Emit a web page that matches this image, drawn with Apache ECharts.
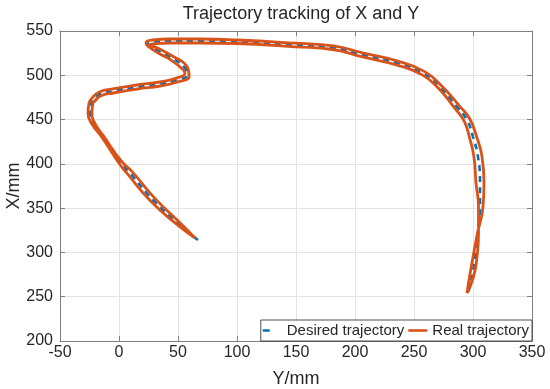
<!DOCTYPE html>
<html>
<head>
<meta charset="utf-8">
<script src="https://cdn.jsdelivr.net/npm/echarts@6/dist/echarts.min.js"></script>
<style>
html,body{margin:0;padding:0;background:#fff;}
#chart{width:550px;height:389px;}
</style>
</head>
<body>
<div id="chart"></div>
<script>
// Desired trajectory (Y/mm horizontal, X/mm vertical)
var desiredX = [66.95, 51.69, 28.81, 9.32, 0.85, -13.56, -22.03, -24.58, -23.73, -22.03, -16.10, -5.08, 15.25, 34.75, 49.15, 57.63, 55.93, 43.22, 32.20, 24.58, 28.81, 43.22, 68.64, 100.0, 149.15, 181.36, 206.78, 235.59, 257.63, 272.03, 286.44, 294.92, 300.0, 304.24, 305.93, 305.93, 304.24, 301.69, 299.15, 295.76];
var desiredY = [314.03, 330.97, 359.19, 389.68, 402.10, 430.32, 446.13, 457.42, 468.71, 472.10, 478.87, 482.26, 486.77, 490.16, 494.68, 500.32, 508.23, 520.65, 528.55, 535.32, 537.58, 538.71, 538.71, 537.92, 534.19, 531.15, 522.90, 513.87, 502.58, 486.77, 464.19, 449.52, 430.32, 407.74, 378.39, 351.29, 321.94, 294.84, 272.26, 254.19];

// Real trajectory (out and back)
var realX = [64.41, 52.71, 30.42, 10.93, 1.86, -12.88, -21.02, -22.88, -22.03, -20.85, -15.59, -4.83, 15.51, 35.00, 49.66, 59.41, 57.46, 44.15, 33.05, 26.27, 29.15, 43.22, 68.64, 100.0, 149.07, 181.10, 206.36, 235.00, 256.61, 270.76, 284.66, 292.63, 297.12, 300.85, 302.54, 304.66, 304.66, 303.39, 300.42, 294.92,
  297.03, 300.0, 303.81, 308.47, 309.32, 307.63, 302.88, 297.20, 288.22, 273.31, 258.64, 236.19, 207.20, 181.61, 149.24, 100.0, 68.64, 43.22, 28.47, 22.88, 31.36, 42.29, 54.41, 55.85, 48.64, 34.49, 15.00, -5.34, -16.61, -23.22, -25.42, -26.27, -23.05, -14.24, -0.17, 7.71, 27.20, 50.68, 64.41];
var realY = [316.29, 332.10, 361.00, 391.48, 403.23, 431.00, 447.15, 458.10, 468.71, 470.52, 476.61, 480.00, 484.52, 487.90, 492.53, 498.74, 510.15, 522.56, 530.47, 534.19, 535.32, 536.45, 536.45, 535.89, 532.16, 529.11, 520.76, 511.73, 500.77, 485.31, 462.61, 448.05, 429.19, 407.29, 378.39, 351.29, 321.94, 294.84, 272.26, 254.19,
  272.26, 294.84, 321.94, 351.29, 378.39, 408.19, 431.45, 450.98, 465.77, 488.24, 504.39, 516.02, 525.05, 533.18, 536.23, 539.84, 540.97, 540.97, 539.84, 537.02, 526.63, 518.73, 506.31, 501.90, 496.82, 492.42, 489.03, 484.52, 481.13, 473.68, 468.71, 456.74, 445.11, 429.65, 400.97, 387.87, 357.39, 329.84, 316.29];

var xTicks = [-50, 0, 50, 100, 150, 200, 250, 300, 350];
var yTicks = [200, 250, 300, 350, 400, 450, 500, 550];
var seriesNames = ['Desired trajectory', 'Real trajectory'];
var titleText = 'Trajectory tracking of X and Y';

function pairs(xs, ys) { return xs.map(function (x, i) { return [x, ys[i]]; }); }

var FONT = '"Liberation Sans", Arial, Helvetica, sans-serif';
var AX = '#808080';
var TXT = '#262626';
var BLUE = '#0072BD', ORANGE = '#D95319';

var chart = echarts.init(document.getElementById('chart'), null, {renderer: 'canvas'});
var axisCommon = {
  type: 'value',
  axisLine: {show: true, onZero: false, lineStyle: {color: AX, width: 1}},
  axisTick: {show: true, inside: true, length: 5, lineStyle: {color: AX}},
  splitLine: {show: true, lineStyle: {color: '#e4e4e4', width: 1}}
};
chart.setOption({
  animation: false,
  backgroundColor: '#fff',
  title: {
    text: titleText,
    left: 296, top: 0, textAlign: 'center',
    textStyle: {fontFamily: FONT, fontSize: 18, fontWeight: 'normal', color: TXT}
  },
  grid: {left: 60, right: 18, top: 31, bottom: 48, containLabel: false, outerBoundsMode: 'none'},
  legend: {
    data: [
      {name: seriesNames[0], icon: 'path://M0,0h7v2.6h-7z M19,0v2.6', itemStyle: {color: BLUE}},
      {name: seriesNames[1], icon: 'path://M0,0h19v2.6h-19z', itemStyle: {color: ORANGE}}
    ],
    right: 18, bottom: 48,
    orient: 'horizontal',
    itemWidth: 19, itemHeight: 2.6, itemGap: 4,
    padding: [3, 3, 3, 2],
    backgroundColor: '#fff',
    borderColor: '#262626', borderWidth: 0.8, borderRadius: 0,
    textStyle: {fontFamily: FONT, fontSize: 15, color: TXT}
  },
  xAxis: [
    Object.assign({}, axisCommon, {
      min: -50, max: 350, interval: 50, position: 'bottom',
      name: 'Y/mm', nameLocation: 'middle', nameGap: 29,
      nameTextStyle: {fontFamily: FONT, fontSize: 18, color: TXT},
      axisLabel: {fontFamily: FONT, fontSize: 16, color: TXT, margin: 4,
        customValues: xTicks}
    }),
    Object.assign({}, axisCommon, {
      min: -50, max: 350, interval: 50, position: 'top',
      axisLabel: {show: false}, splitLine: {show: false}
    })
  ],
  yAxis: [
    Object.assign({}, axisCommon, {
      min: 200, max: 550, interval: 50, position: 'left',
      name: 'X/mm', nameLocation: 'middle', nameGap: 37, nameMoveOverlap: false,
      nameTextStyle: {fontFamily: FONT, fontSize: 18, color: TXT},
      axisLabel: {fontFamily: FONT, fontSize: 16, color: TXT, margin: 7,
        customValues: yTicks}
    }),
    Object.assign({}, axisCommon, {
      min: 200, max: 550, interval: 50, position: 'right',
      axisLabel: {show: false}, splitLine: {show: false}
    })
  ],
  series: [
    {
      name: seriesNames[0], type: 'line', xAxisIndex: 0, yAxisIndex: 0,
      data: pairs(desiredX, desiredY),
      showSymbol: false, symbol: 'none', smooth: 0.5,
      lineStyle: {color: BLUE, width: 2.6, type: [6, 5]},
      itemStyle: {color: BLUE}, z: 2
    },
    {
      name: seriesNames[1], type: 'line', xAxisIndex: 0, yAxisIndex: 0,
      data: pairs(realX, realY),
      showSymbol: false, symbol: 'none', smooth: 0.5,
      lineStyle: {color: ORANGE, width: 2.8},
      itemStyle: {color: ORANGE}, z: 3
    }
  ]
});
</script>
</body>
</html>
